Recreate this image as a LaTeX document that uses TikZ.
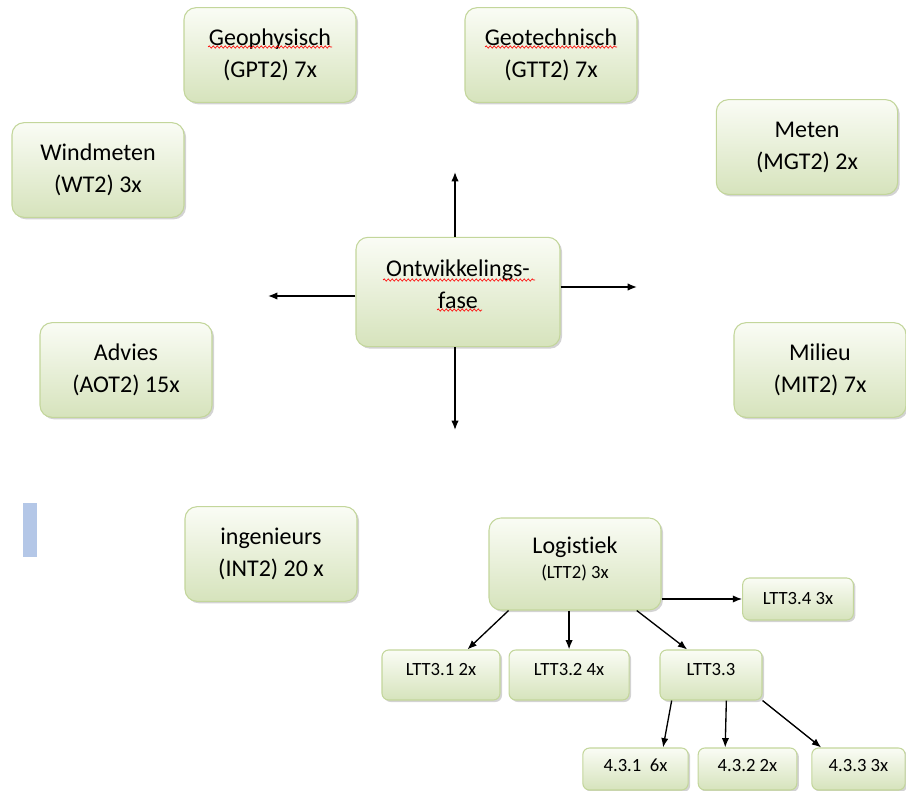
\documentclass[tikz,border=0pt]{standalone}
\usepackage{fontspec}
\setmainfont[Ligatures=NoCommon]{Carlito}
\usepackage{tikz}
\usetikzlibrary{positioning}
\usetikzlibrary{shadows}
\usetikzlibrary{calc}
\usetikzlibrary{arrows.meta}
\usetikzlibrary{decorations.pathmorphing}
\definecolor{boxline}{HTML}{C3D69B}
\definecolor{boxtop}{HTML}{FAFCF5}
\definecolor{boxbottom}{HTML}{D6E3BC}
\definecolor{barblue}{HTML}{B4C7E7}
\tikzset{box/.style={draw=boxline, line width=0.8pt, rounded corners=9pt, top color=boxtop, bottom color=boxbottom, drop shadow={opacity=0.35, shadow xshift=1.5pt, shadow yshift=-1.5pt}, align=center, inner sep=2pt, minimum width=129pt, minimum height=71pt, font=\fontsize{18}{24}\selectfont},
smallbox/.style={box, rounded corners=5pt, minimum height=37.5pt, font=\fontsize{14}{17}\selectfont},
subbox/.style={smallbox, minimum height=31.5pt, text depth=5pt},
spellmark/.style={red, line width=0.5pt, decorate, decoration={snake, amplitude=0.8pt, segment length=3pt}},
link/.style={-{Latex[length=7pt, width=5.5pt]}, line width=1pt}}

\begin{document}
\begin{tikzpicture}[x=0.75pt, y=-0.75pt]
\useasboundingbox (0,0) rectangle (906,791);
\node (geo) at (270,55) [box] {Geophysisch\\(GPT2) 7x};
\node (geotech) at (551,55) [box] {Geotechnisch\\(GTT2) 7x};
\node (wind) at (98,170) [box] {Windmeten\\(WT2) 3x};
\node (meten) at (807,147) [box, minimum width=136pt] {Meten\\(MGT2) 2x};
\node (ontw) at (458,292) [box, minimum width=153pt, minimum height=82pt, text depth=12pt] {Ontwikkelings-\\fase};
\node (advies) at (126,370) [box] {Advies\\(AOT2) 15x};
\node (milieu) at (820,370) [box] {Milieu\\(MIT2) 7x};
\node (ing) at (271,554) [box] {ingenieurs\\(INT2) 20 x};
\node (log) at (575,564) [box, minimum height=69pt, text depth=10pt] {Logistiek\\[-5pt]{\fontsize{14}{17}\selectfont (LTT2) 3x}};
\node (lttd) at (798,599) [smallbox, minimum width=83pt, minimum height=31.5pt] {LTT3.4 3x};
\node (ltta) at (441,675) [smallbox, minimum width=88.5pt, text depth=8pt] {LTT3.1 2x};
\node (lttb) [smallbox, minimum width=90pt, text depth=8pt, right=6pt of ltta] {LTT3.2 4x};
\node (lttc) at (711,675) [smallbox, minimum width=76.5pt, text depth=8pt] {LTT3.3};
\node (sub1) at (635.5,769) [subbox, minimum width=79pt] {4.3.1~~6x};
\node (sub2) at (747.5,769) [subbox, minimum width=74pt] {4.3.2 2x};
\node (sub3) at (858.5,769) [subbox, minimum width=70pt] {4.3.3 3x};
\fill [barblue] (23,503) rectangle (37,557);
% spelling marks under the words
\draw [spellmark] ($(geo)+(-62,-8)$) -- ++(124,0);
\draw [spellmark] ($(geotech)+(-66,-8)$) -- ++(132,0);
\draw [spellmark] ($(ontw)+(-75,-12)$) -- ++(152,0);
\draw [spellmark] ($(ontw)+(-21,18)$) -- ++(45,0);
\coordinate (up) at (455,172);
\coordinate (lft) at (268,296);
\coordinate (rgt) at (637,287);
\coordinate (dwn) at (455,430);
\draw [link] (ontw.north -| up) -- (up);
\draw [link] (ontw.west |- lft) -- (lft);
\draw [link] (ontw.east |- rgt) -- (rgt);
\draw [link] (ontw.south -| dwn) -- (dwn);
\draw [link] (log.east |- lttd.west) -- (lttd.west);
\draw [link] (log.215) -- (ltta.44);
\draw [link] (log.south -| lttb.north) -- (lttb.north);
\draw [link] (log.323) -- (lttc.133);
\draw [link] (lttc.213) -- (sub1.38);
\draw [link] (lttc.301) -- (sub2.136);
\draw [link] (lttc.south east) -- (sub3.150);
\end{tikzpicture}
\end{document}
